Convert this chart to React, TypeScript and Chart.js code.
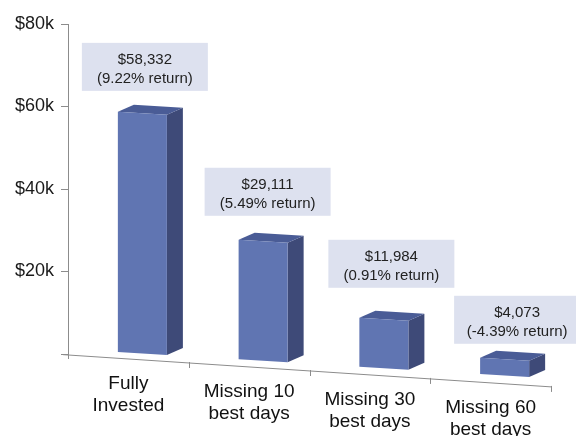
import { useEffect, useRef } from 'react';
import { Chart, registerables } from 'chart.js';

Chart.register(...registerables);

// Growth of an investment under different market-timing scenarios
const categories: string[][] = [
  ['Fully', 'Invested'],
  ['Missing 10', 'best days'],
  ['Missing 30', 'best days'],
  ['Missing 60', 'best days'],
];
const endingValues = [58332, 29111, 11984, 4073];
const annualReturns = [9.22, 5.49, 0.91, -4.39];
const yTickValues = [0, 20000, 40000, 60000, 80000];
const yTickLabels = ['', '$20k', '$40k', '$60k', '$80k'];

// Callout placement relative to each bar's front top-left corner (px)
const calloutOffsets = [
  [-36, -69],
  [-34, -72],
  [-31, -78],
  [-26, -62],
];

const FONT = '"Liberation Sans", Arial, Helvetica, sans-serif';
const AXIS_COLOR = '#8c8c8c';
const FRONT = '#6075b2';
const TOP = '#4a5c96';
const SIDE = '#3e4a78';
const CALLOUT_FILL = '#dde1ef';

const FLOOR_SLOPE = 0.066; // tilt of the floor line
const BAR_SLOPE = 0.061; // tilt of the bar bottoms
const DEPTH_X = 16;
const DEPTH_Y = -7;
const BAR_SHIFT = 14;

const perspectiveBars = {
  id: 'perspectiveBars',
  afterDatasetsDraw(chart: any) {
    const { ctx, chartArea: a, scales } = chart;
    const xs = scales.x;
    const axisY = (px: number) => a.bottom + 1 + (px - a.left) * FLOOR_SLOPE;
    const floorY = (px: number) => a.bottom - 2 + (px - a.left - 50) * BAR_SLOPE;

    ctx.save();

    // floor line with category separators
    ctx.strokeStyle = AXIS_COLOR;
    ctx.lineWidth = 1;
    ctx.beginPath();
    ctx.moveTo(a.left - 5, axisY(a.left - 5));
    ctx.lineTo(a.right, axisY(a.right));
    ctx.stroke();
    ctx.beginPath();
    ctx.moveTo(a.left + 0.5, a.bottom);
    ctx.lineTo(a.left + 0.5, a.bottom + 5);
    for (let i = 0; i < categories.length; i++) {
      const bx = Math.round(xs.getPixelForValue(i + 0.5)) + 0.5;
      const by = axisY(bx);
      ctx.moveTo(bx, by - 1);
      ctx.lineTo(bx, by + 5);
    }
    ctx.stroke();

    // bars
    const meta = chart.getDatasetMeta(0);
    const tops: { L: number; top: number }[] = [];
    meta.data.forEach((el: any) => {
      const p = el.getProps(['x', 'y', 'base', 'width'], true);
      const h = p.base - p.y;
      const L = p.x - p.width / 2 + BAR_SHIFT;
      const R = L + p.width;
      const fl = floorY(L);
      const fr = floorY(R);

      ctx.fillStyle = SIDE;
      ctx.beginPath();
      ctx.moveTo(R, fr);
      ctx.lineTo(R + DEPTH_X, fr + DEPTH_Y);
      ctx.lineTo(R + DEPTH_X, fr + DEPTH_Y - h);
      ctx.lineTo(R, fr - h);
      ctx.closePath();
      ctx.fill();

      ctx.fillStyle = TOP;
      ctx.beginPath();
      ctx.moveTo(L, fl - h);
      ctx.lineTo(R, fr - h);
      ctx.lineTo(R + DEPTH_X, fr - h + DEPTH_Y);
      ctx.lineTo(L + DEPTH_X, fl - h + DEPTH_Y);
      ctx.closePath();
      ctx.fill();

      ctx.fillStyle = FRONT;
      ctx.beginPath();
      ctx.moveTo(L, fl);
      ctx.lineTo(R, fr);
      ctx.lineTo(R, fr - h);
      ctx.lineTo(L, fl - h);
      ctx.closePath();
      ctx.fill();

      tops.push({ L, top: fl - h });
    });

    // value callouts
    ctx.textAlign = 'center';
    ctx.textBaseline = 'middle';
    tops.forEach((t, i) => {
      const bx = t.L + calloutOffsets[i][0];
      const by = t.top + calloutOffsets[i][1];
      ctx.fillStyle = CALLOUT_FILL;
      ctx.fillRect(bx, by, 126, 48);
      ctx.fillStyle = '#222';
      ctx.font = `15px ${FONT}`;
      const v = endingValues[i].toLocaleString('en-US');
      const r = annualReturns[i].toFixed(2);
      ctx.fillText(`$${v}`, bx + 63, by + 17);
      ctx.fillText(`(${r}% return)`, bx + 63, by + 36);
    });

    // category labels following the tilted floor
    ctx.fillStyle = '#111';
    ctx.font = `19px ${FONT}`;
    categories.forEach((lines, i) => {
      const cx = xs.getPixelForValue(i);
      const base = axisY(cx);
      lines.forEach((line, j) => ctx.fillText(line, cx, base + 25 + j * 22));
    });

    ctx.restore();
  },
};

export default function App() {
  const ref = useRef<HTMLCanvasElement>(null);

  useEffect(() => {
    if (!ref.current) return;
    const chart = new Chart(ref.current, {
      type: 'bar',
      data: {
        labels: categories.map((c) => c.join(' ')),
        datasets: [
          {
            data: endingValues,
            backgroundColor: 'rgba(0,0,0,0)',
            borderWidth: 0,
            barPercentage: 0.406,
            categoryPercentage: 1,
          },
        ],
      },
      options: {
        animation: false,
        responsive: false,
        events: [],
        layout: { padding: { left: 0, top: 24, right: 25, bottom: 82 } },
        plugins: { legend: { display: false }, tooltip: { enabled: false } },
        scales: {
          x: { display: false },
          y: {
            min: 0,
            max: 80000,
            afterBuildTicks: (scale: any) => {
              scale.ticks = yTickValues.map((value) => ({ value }));
            },
            afterFit: (scale: any) => {
              scale.width = 68;
            },
            ticks: {
              callback: (_v: any, i: number) => yTickLabels[i],
              font: { family: FONT, size: 18 },
              color: '#1a1a1a',
              padding: 7,
            },
            grid: {
              drawOnChartArea: false,
              drawTicks: true,
              tickLength: 7,
              color: AXIS_COLOR,
            },
            border: { display: true, color: AXIS_COLOR },
          },
        },
      },
      plugins: [perspectiveBars],
    });
    return () => chart.destroy();
  }, []);

  return (
    <div style={{ position: 'absolute', left: 0, top: 0, width: 576, height: 436, background: '#fff' }}>
      <canvas ref={ref} width={576} height={436} />
    </div>
  );
}
